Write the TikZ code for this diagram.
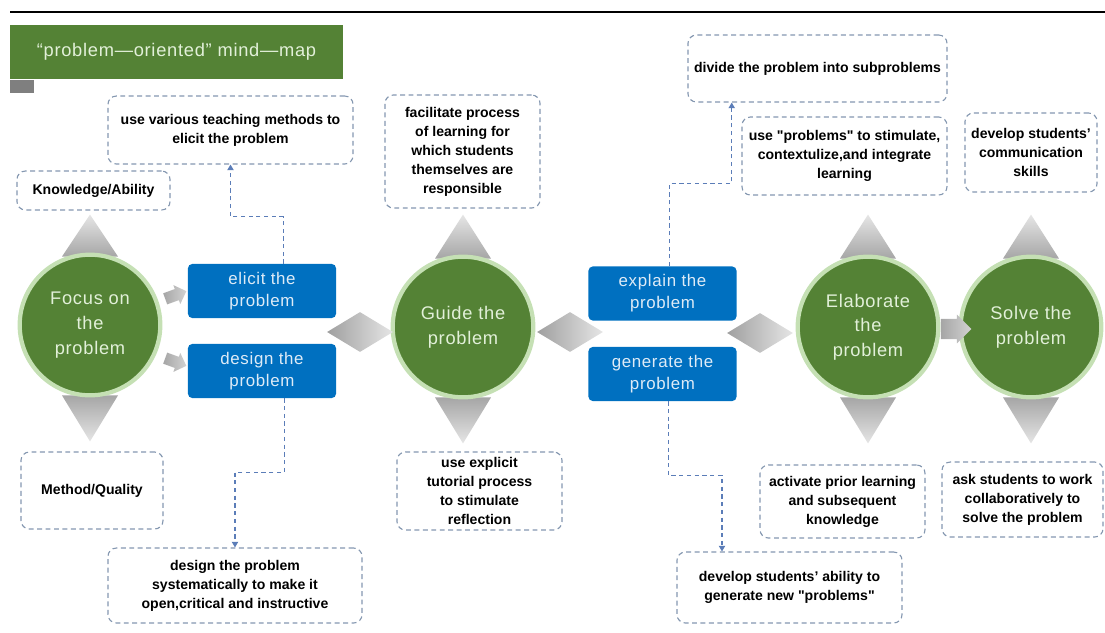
\documentclass[tikz,border=0pt]{standalone}
\usepackage{fontspec}
\setmainfont{Liberation Sans}
\newfontfamily\roundfont[LetterSpace=4]{Liberation Sans}
\usepackage{tikz}
\usetikzlibrary{shapes.geometric,
                shapes.arrows,
                positioning,
                calc,
                arrows.meta,
            backgrounds}
\definecolor{mapgreen}{HTML}{548235}
\definecolor{glowgreen}{HTML}{C5E0B4}
\definecolor{palegreen}{HTML}{E2F0D9}
\definecolor{boxblue}{HTML}{0070C0}
\definecolor{paleblue}{HTML}{DEEBF7}
\definecolor{dashgray}{HTML}{8497B0}
\definecolor{linkblue}{HTML}{5B7DB8}
\definecolor{tabgray}{HTML}{7F7F7F}
\begin{document}
\begin{tikzpicture}
       [x=0.025cm,y=-0.025cm,
        titlebar/.style={fill=mapgreen,shape=rectangle,
                      minimum width=8.325cm,minimum height=1.35cm,
                      text=palegreen,font=\roundfont\fontsize{13}{15}\selectfont},
        tab/.style={fill=tabgray,shape=rectangle,inner sep=0pt,
                      minimum width=0.6cm,minimum height=0.325cm},
        stage/.style={circle,fill=mapgreen,draw=glowgreen,line width=3pt,
                      minimum size=100pt,inner sep=0pt,align=center,
                      text=palegreen,font=\roundfont\fontsize{13}{17.5}\selectfont},
        task/.style={fill=boxblue,shape=rectangle,rounded corners=3pt,
                      minimum width=3.7cm,minimum height=1.35cm,align=center,
                      text=paleblue,font=\roundfont\fontsize{12}{15.5}\selectfont},
        note/.style={shape=rectangle,draw=dashgray,line width=0.8pt,
                      dash pattern=on 3.5pt off 2.5pt,rounded corners=6pt,
                      align=center,inner sep=1pt,
                      font=\bfseries\fontsize{10}{13.5}\selectfont},
        link/.style={draw=linkblue,line width=0.8pt,dash pattern=on 3pt off 2.5pt,
                      -{Triangle[length=4pt,width=4.5pt]}},
        hub/.style={diamond,inner sep=0pt,minimum width=1.65cm,minimum height=1cm,
                      left color=gray!75,right color=gray!20},
        turn/.style={single arrow,inner sep=4pt,minimum height=16pt,
                      single arrow head extend=3pt,
                      left color=gray!70,right color=gray!35},
        uptri/.style={top color=gray!20,bottom color=gray!70},
        downtri/.style={top color=gray!70,bottom color=gray!20}]
 \useasboundingbox (0,0) rectangle (1105,632);
 \draw[line width=1.1pt] (10,12) -- (1105,12);
 \node [titlebar] (title) at (176.5,52) {“problem—oriented” mind—map};
 \node [tab,anchor=north west] (tab) at (title.south west) {};

 % the four stages
 \node [stage] (focus) at (90,325) {Focus on\\the\\problem};
 \node [stage] (guide) at (463,327) {Guide the\\problem};
 \node [stage] (elab) at (868,327) {Elaborate\\the\\problem};
 \node [stage] (solve) at (1031,327) {Solve the\\problem};

 % blue tasks
 \node [task] (elicit) at (262,291) {elicit the\\problem};
 \node [task] (design) at (262,371) {design the\\problem};
 \node [task] (explain) at (662.5,293.5) {explain the\\problem};
 \node [task] (generate) at (662.5,374) {generate the\\problem};

 % joints between them
 \node [hub] (hubA) at (360,332) {};
 \node [hub] (hubB) at (570,332) {};
 \node [hub] (hubC) at (760,333) {};
 \node [turn,rotate=20] (turnA) at (173,296) {};
 \node [turn,rotate=-20] (turnB) at (173,361) {};
 \node [turn,inner sep=7pt] (turnC) at (951,329) {};

 % dashed notes
 \node [note,minimum width=6.125cm,minimum height=1.7cm] (teach) at (230.5,130)
       {use various teaching methods to\\elicit the problem};
 \node [note,minimum width=3.825cm,minimum height=0.975cm] (know) at (93.5,190.5)
       {Knowledge/Ability};
 \node [note,minimum width=3.55cm,minimum height=1.925cm] (method) at (92,490.5)
       {Method/Quality};
 \node [note,minimum width=6.35cm,minimum height=1.875cm] (system) at (235,585.5)
       {design the problem\\systematically to make it\\open,critical and instructive};
 \node [note,minimum width=3.875cm,minimum height=2.825cm] (respons) at (462.5,151.5)
       {facilitate process\\of learning for\\which students\\themselves are\\responsible};
 \node [note,minimum width=4.125cm,minimum height=1.95cm] (reflect) at (479.5,491)
       {use explicit\\tutorial process\\to stimulate\\reflection};
 \node [note,minimum width=6.475cm,minimum height=1.675cm] (divide) at (817.5,68.5)
       {divide the problem into subproblems};
 \node [note,minimum width=5.125cm,minimum height=1.95cm] (context) at (844.5,156)
       {use \textquotedbl problems\textquotedbl\ to stimulate,\\contextulize,and integrate\\learning};
 \node [note,minimum width=3.3cm,minimum height=1.975cm] (commun) at (1031,152.5)
       {develop students'\\communication\\skills};
 \node [note,minimum width=4.125cm,minimum height=1.825cm] (prior) at (842.5,501.5)
       {activate prior learning\\and subsequent\\knowledge};
 \node [note,minimum width=4.025cm,minimum height=1.875cm] (collab) at (1022.5,499.5)
       {ask students to work\\collaboratively to\\solve the problem};
 \node [note,minimum width=5.625cm,minimum height=1.775cm] (newprob) at (789.5,587.5)
       {develop students' ability to\\generate new \textquotedbl problems\textquotedbl};

 % connectors
 \draw [link] ([xshift=15pt]elicit.north) -- ++(0,-47) -| (teach.south);
 \draw [link] ([xshift=16pt]design.south) -- ++(0,74) -| (system.north);
 \draw [link] ([xshift=5pt]explain.north) -- ++(0,-83) -| ([xshift=-61pt]divide.south);
 \draw [link] ([xshift=4pt]generate.south) -- ++(0,74) -| ([xshift=-48pt]newprob.north);

 % triangles round the stages
 \begin{scope}[on background layer]
  \shade [uptri] ($(focus.north)+(-28,4)$) -- ($(focus.north)+(28,4)$) -- ($(focus.north)+(0,-38)$) -- cycle;
  \shade [downtri] ($(focus.south)+(-28,-2)$) -- ($(focus.south)+(28,-2)$) -- ($(focus.south)+(0,44)$) -- cycle;
  \shade [uptri] ($(guide.north)+(-28,4)$) -- ($(guide.north)+(28,4)$) -- ($(guide.north)+(0,-40)$) -- cycle;
  \shade [downtri] ($(guide.south)+(-28,-2)$) -- ($(guide.south)+(28,-2)$) -- ($(guide.south)+(0,44)$) -- cycle;
  \shade [uptri] ($(elab.north)+(-28,4)$) -- ($(elab.north)+(28,4)$) -- ($(elab.north)+(0,-40)$) -- cycle;
  \shade [downtri] ($(elab.south)+(-28,-2)$) -- ($(elab.south)+(28,-2)$) -- ($(elab.south)+(0,44)$) -- cycle;
  \shade [uptri] ($(solve.north)+(-28,4)$) -- ($(solve.north)+(28,4)$) -- ($(solve.north)+(0,-40)$) -- cycle;
  \shade [downtri] ($(solve.south)+(-28,-2)$) -- ($(solve.south)+(28,-2)$) -- ($(solve.south)+(0,44)$) -- cycle;
 \end{scope}
\end{tikzpicture}
\end{document}
